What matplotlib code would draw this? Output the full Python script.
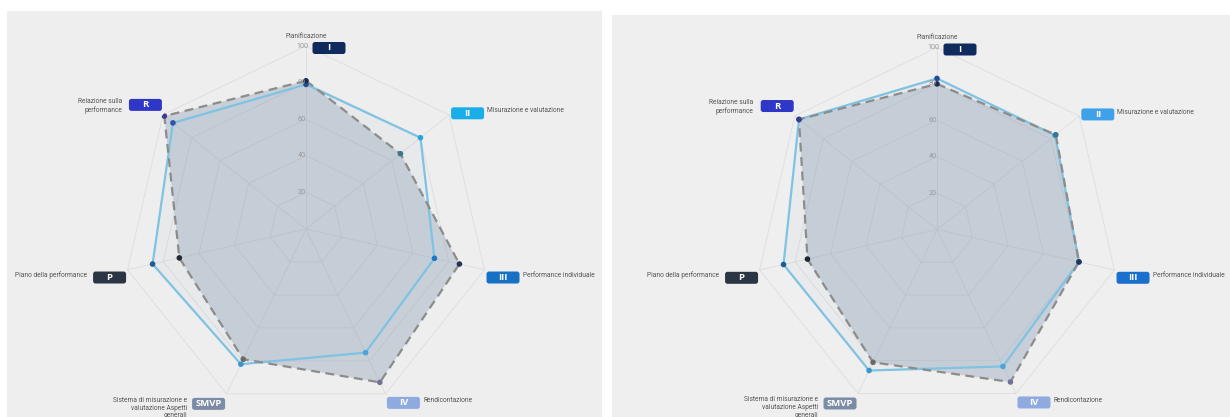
import numpy as np
import matplotlib.pyplot as plt
from matplotlib.patches import Rectangle, BoxStyle

W, H = 1230, 417

# axis badges and descriptions, clockwise from the top
badges = ['I', 'II', 'III', 'IV', 'SMVP', 'P', 'R']
axis_labels = ['Pianificazione', 'Misurazione e valutazione', 'Performance individuale',
               'Rendicontazione', 'Sistema di misurazione e\nvalutazione Aspetti\ngenerali',
               'Piano della performance', 'Relazione sulla\nperformance']
ticks = [20, 40, 60, 80, 100]

# values
left_dashed = [81, 66, 86, 93, 79, 71, 99]
left_blue = [79, 80, 72, 75, 82, 86, 93]
right_dashed = [80, 83.5, 80, 93, 81, 73, 97]
right_blue = [83, 83, 80, 83.5, 86, 86.5, 97]

badge_colors_left = ['#0f2a5c', '#1aaee9', '#1670c4', '#8eaadf', '#7c8ca6', '#2b3645', '#2f37c6']
badge_colors_right = ['#0f2a5c', '#3fa2e8', '#1b6fcd', '#8eaadf', '#7c8ca6', '#2b3645', '#2f37c6']
dashed_points = ['#1d2b57', '#3d7491', '#22365a', '#6f7398', '#6b6b6b', '#1f262e', '#3a3a90']
blue_points = ['#1e4f93', '#27a6db', '#1d77c6', '#4fa3d9', '#3897cf', '#1e5d94', '#2e53b0']

# offsets (pixels) of badge and description from each axis end
badge_off = [(23, -2), (18.5, 1.6), (18.6, -7.8), (18, -9), (-18, -10), (-18, -7.8), (-17.5, 10)]
text_off = [(0, 10, 'center', 'center'), (38, 4, 'left', 'center'), (38.6, -6, 'left', 'center'),
            (37.6, -7, 'left', 'center'), (-39.6, -3, 'right', 'top'), (-40.6, -5, 'right', 'center'),
            (-41, 9, 'right', 'center')]


def badge_box(x0, y0, width, height, mutation_size):
    # fixed size rounded badge centred on the text
    cx, cy = x0 + width / 2, y0 + height / 2
    w, h = 33, 12
    return BoxStyle.Round(pad=0, rounding_size=2.5)(cx - w / 2, cy - h / 2, w, h, 1.0)


fig = plt.figure(figsize=(W / 100, H / 100), dpi=100)
fig.patch.set_facecolor('white')

# grey panels behind each chart
fig.add_artist(Rectangle((7 / W, 0), (602 - 7) / W, (H - 11) / H, transform=fig.transFigure,
                         facecolor='#eeeeee', edgecolor='none', zorder=0))
fig.add_artist(Rectangle((612 / W, 0), (W - 612) / W, (H - 15) / H, transform=fig.transFigure,
                         facecolor='#efefef', edgecolor='none', zorder=0))

angles = np.linspace(0, 2 * np.pi, len(badges), endpoint=False)
closed = np.append(angles, angles[0])


def radar(cx, cy, r, dashed, blue, badge_colors):
    ax = fig.add_axes([(cx - r) / W, (H - cy - r) / H, 2 * r / W, 2 * r / H], projection='polar')
    ax.set_theta_zero_location('N')
    ax.set_theta_direction(-1)
    ax.set_ylim(0, 100)
    ax.axis('off')

    # heptagon web
    for t in ticks:
        ax.plot(closed, [t] * len(closed), color='#dddddd', lw=0.6, zorder=1, clip_on=False)
    for a in angles:
        ax.plot([a, a], [0, 100], color='#dddddd', lw=0.6, zorder=1, clip_on=False)

    d = np.append(dashed, dashed[0])
    b = np.append(blue, blue[0])
    ax.fill(closed, d, color='#8d9db4', alpha=0.38, lw=0, zorder=2)
    ax.fill(closed, b, color='#9ab8d0', alpha=0.08, lw=0, zorder=2)
    ax.plot(closed, b, color='#7ec3e3', lw=1.6, zorder=3)
    ax.plot(closed, d, color='#8c8c8c', lw=1.6, linestyle=(0, (4, 2.5)), zorder=4)
    ax.scatter(angles, blue, s=9, c=blue_points, zorder=5)
    ax.scatter(angles, dashed, s=9, c=dashed_points, zorder=6)

    for t in ticks:
        ax.annotate(str(t), xy=(0, t), xytext=(-4, 0), textcoords='offset pixels',
                    ha='center', va='center', fontsize=5.2, color='#9a9a9a',
                    family='Roboto', zorder=7, annotation_clip=False)

    for i, a in enumerate(angles):
        bx, by = badge_off[i]
        ax.annotate(badges[i], xy=(a, 100), xytext=(bx, by), textcoords='offset pixels',
                    ha='center', va='center', fontsize=6.8, color='white', fontweight='bold',
                    family='Open Sans', annotation_clip=False, zorder=8,
                    bbox=dict(boxstyle=badge_box, fc=badge_colors[i], ec='none'))
        tx, ty, ha, va = text_off[i]
        ax.annotate(axis_labels[i], xy=(a, 100), xytext=(tx, ty), textcoords='offset pixels',
                    ha=ha, va=va, multialignment=ha if ha != 'center' else 'center',
                    fontsize=4.8, color='#555555', family='Roboto', linespacing=1.15,
                    annotation_clip=False, zorder=8)
    return ax


radar(306, 229, 183, left_dashed, left_blue, badge_colors_left)
radar(937, 229.5, 182, right_dashed, right_blue, badge_colors_right)

plt.savefig('out.png', dpi=100)
plt.close(fig)
